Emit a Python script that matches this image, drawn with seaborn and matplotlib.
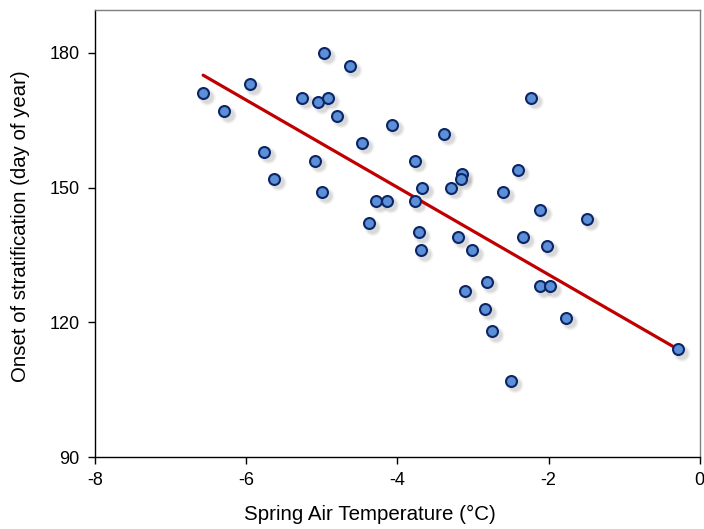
import numpy as np
import pandas as pd
import matplotlib
matplotlib.use("Agg")
import matplotlib.pyplot as plt
import matplotlib.transforms as mtransforms
import seaborn as sns

temp = [-6.57, -6.29, -5.95, -5.76, -5.63, -5.26, -5.05, -4.97, -4.92, -4.80,
        -5.09, -5.00, -4.63, -4.47, -4.38, -4.28, -4.14, -4.07, -3.77, -3.77,
        -3.72, -3.69, -3.67, -3.38, -3.29, -3.20, -3.15, -3.16, -3.10, -3.01,
        -2.84, -2.82, -2.75, -2.60, -2.50, -2.41, -2.34, -2.23, -2.11, -2.11,
        -2.02, -1.98, -1.77, -1.49, -0.29]
onset = [171, 167, 173, 158, 152, 170, 169, 180, 170, 166,
         156, 149, 177, 160, 142, 147, 147, 164, 156, 147,
         140, 136, 150, 162, 150, 139, 153, 152, 127, 136,
         123, 129, 118, 149, 107, 154, 139, 170, 128, 145,
         137, 128, 121, 143, 114]
fit_x = [-6.57, -0.29]
fit_y = [175.0, 114.0]
x_ticks = [-8, -6, -4, -2, 0]
y_ticks = [90, 120, 150, 180]

df = pd.DataFrame({"temp": temp, "onset": onset})
fit = pd.DataFrame({"temp": fit_x, "onset": fit_y})

sns.set_theme(style="white")
plt.rcParams["font.family"] = ["Liberation Sans", "DejaVu Sans"]
plt.rcParams["axes.unicode_minus"] = False

fig = plt.figure(figsize=(7.04, 5.29), dpi=100)
ax = fig.add_axes([0.135, 0.136, 0.859, 0.845])

# soft drop shadow under the markers
shadow_tr = ax.transData + mtransforms.ScaledTranslation(3 / 72, -3 / 72, fig.dpi_scale_trans)
for s, a in [(150, 0.06), (110, 0.08), (80, 0.10)]:
    ax.scatter(df["temp"], df["onset"], s=s, color="#555555", alpha=a,
               edgecolors="none", transform=shadow_tr, zorder=1)

sns.lineplot(data=fit, x="temp", y="onset", color="#c00000", linewidth=2.3, ax=ax, zorder=2)

sns.scatterplot(data=df, x="temp", y="onset", s=62, color="#5b8fd8",
                edgecolor="#0b2565", linewidth=1.5, ax=ax, zorder=3)

ax.set_xlim(-8, 0)
ax.set_ylim(90, 189.5)
ax.set_xticks(x_ticks)
ax.set_yticks(y_ticks)
ax.tick_params(axis="both", which="major", direction="out", length=5, width=1,
               color="black", labelsize=13, labelcolor="black", bottom=True, left=True, pad=6)
ax.set_xlabel("Spring Air Temperature (°C)", fontsize=14.8, color="black")
ax.set_ylabel("Onset of stratification (day of year)", fontsize=14.7, color="black")
ax.xaxis.set_label_coords(0.455, -0.106)
ax.yaxis.set_label_coords(-0.108, 0.517)

for side in ["left", "bottom"]:
    ax.spines[side].set_color("black")
    ax.spines[side].set_linewidth(1)
for side in ["top", "right"]:
    ax.spines[side].set_color("#7f7f7f")
    ax.spines[side].set_linewidth(1)

fig.savefig("out.png", dpi=100)
